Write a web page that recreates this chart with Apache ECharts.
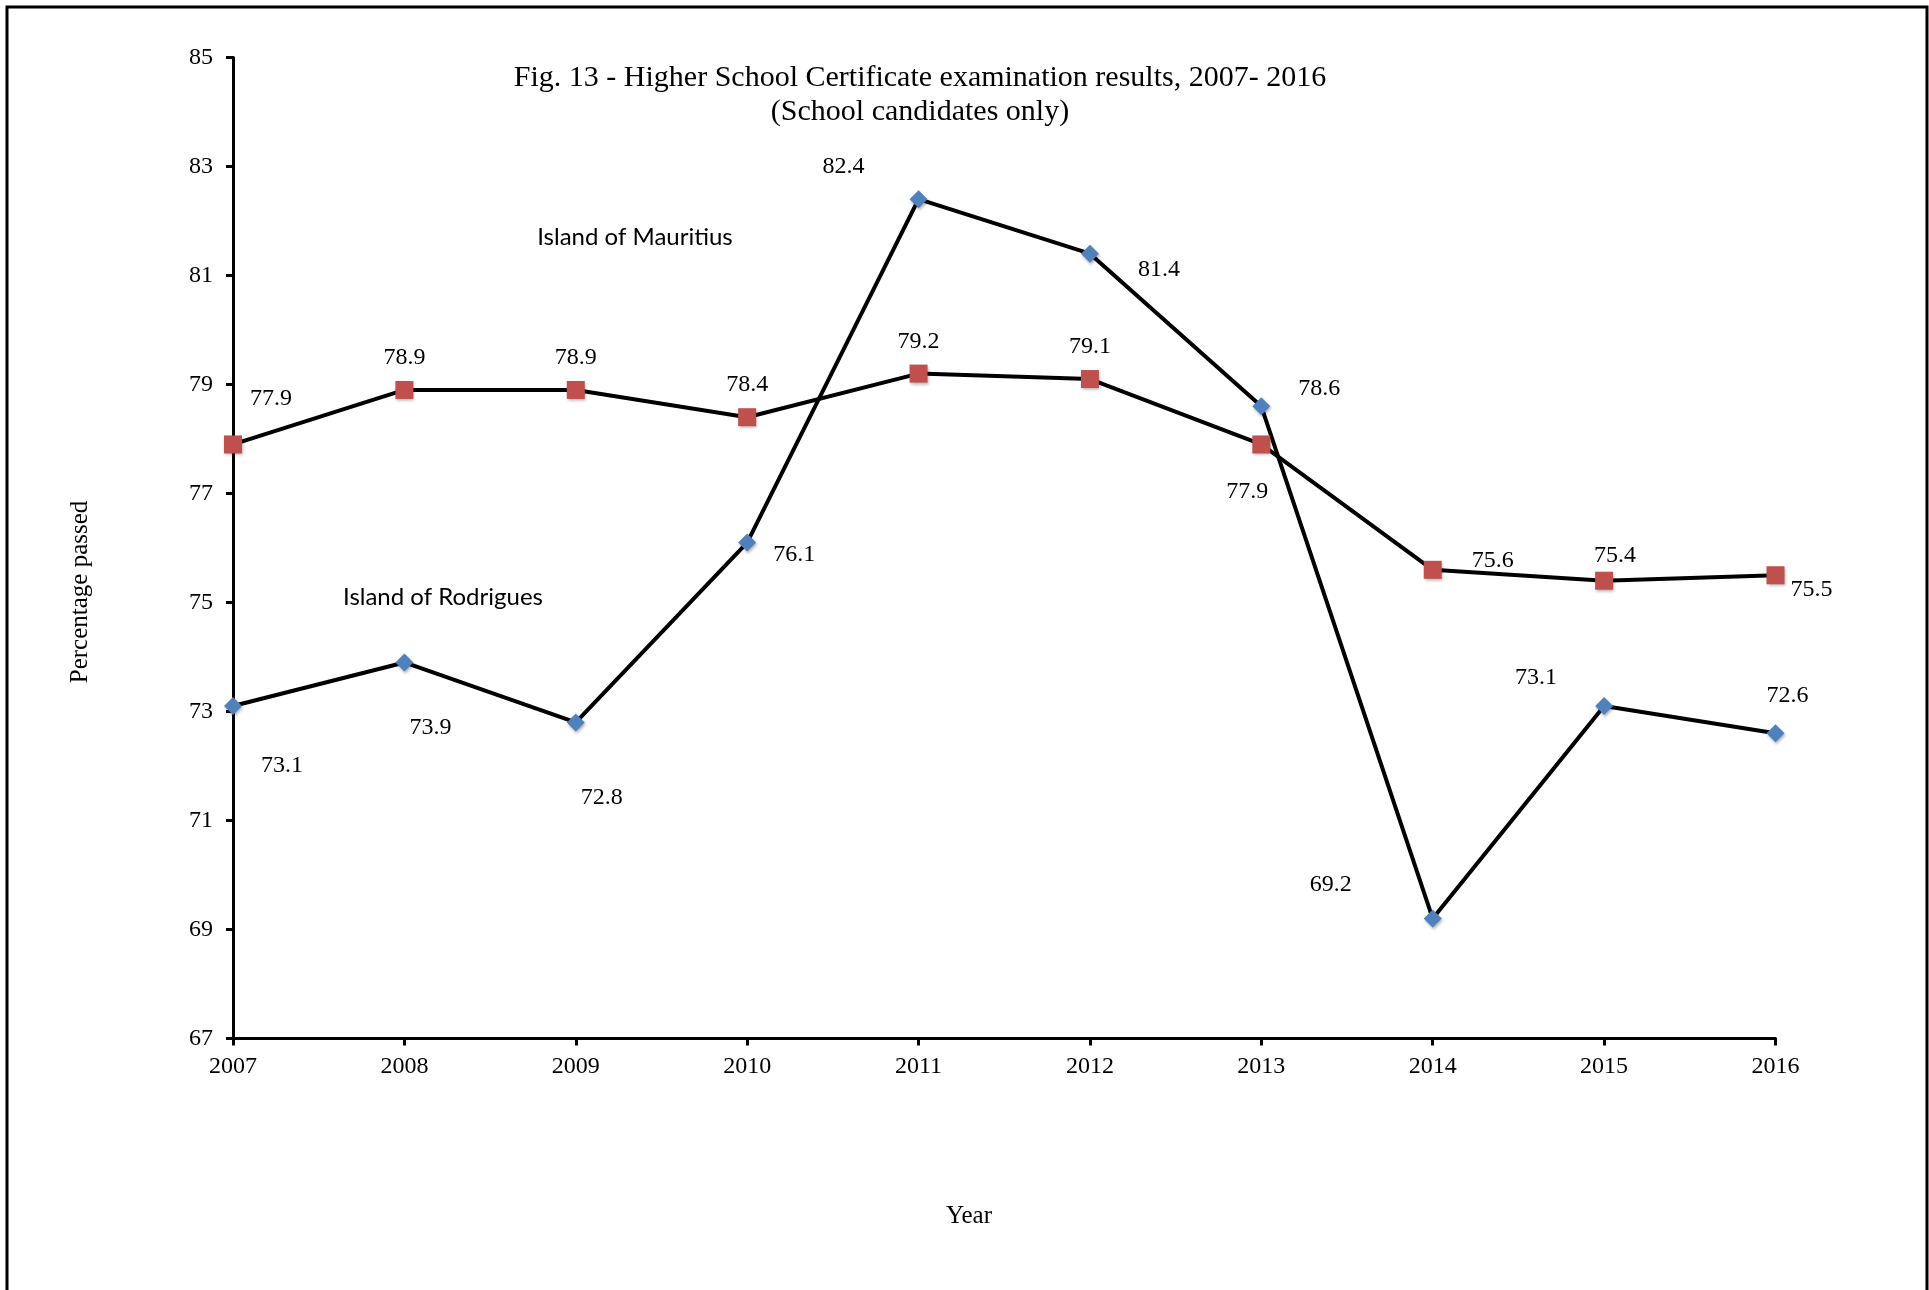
<!DOCTYPE html>
<html>
<head>
<meta charset="utf-8">
<script src="https://cdn.jsdelivr.net/npm/echarts@6/dist/echarts.min.js"></script>
<style>
html,body{margin:0;padding:0;background:#fff;}
#chart{width:1929px;height:1290px;}
</style>
</head>
<body>
<div id="chart"></div>
<script>
const years = ['2007','2008','2009','2010','2011','2012','2013','2014','2015','2016'];
const mauritius = [77.9, 78.9, 78.9, 78.4, 79.2, 79.1, 77.9, 75.6, 75.4, 75.5];
const rodrigues = [73.1, 73.9, 72.8, 76.1, 82.4, 81.4, 78.6, 69.2, 73.1, 72.6];
const yTicks = {min: 67, max: 85, interval: 2};
const titleText = 'Fig. 13 - Higher School Certificate examination results, 2007- 2016\n(School candidates only)';

// label offsets (pixels) relative to each point
const mauritiusLabelOffsets = [[38,-46],[0,-32],[0,-32],[0,-32],[0,-32],[0,-32],[-14,47],[60,-9],[11,-25],[36,14]];
const rodriguesLabelOffsets = [[49,60],[26,65],[26,75],[47,12],[-75,-32],[69,16],[58,-18],[-102,-34],[-68,-28],[12,-38]];

const serif = 'Liberation Serif';
const chart = echarts.init(document.getElementById('chart'));

function build(vals, offs){
  return vals.map((v,i)=>({value:v, label:{offset:offs[i]}}));
}

const labelStyle = {
  show:true, position:'inside', align:'center', verticalAlign:'middle',
  fontFamily:serif, fontSize:24, color:'#000',
  formatter: p => p.value.toFixed(1)
};

chart.setOption({
  animation:false,
  backgroundColor:'#fff',
  title:{
    text:titleText, left:915, top:56, textAlign:'center',
    textStyle:{fontFamily:serif, fontSize:30, fontWeight:'normal', color:'#000', lineHeight:34}
  },
  grid:{left:233, right:153.5, top:57.5, bottom:251.5, containLabel:false},
  xAxis:{
    type:'category', data:years, boundaryGap:false,
    axisLine:{lineStyle:{color:'#000', width:3}},
    axisTick:{show:true, length:7, lineStyle:{color:'#000', width:3}, alignWithLabel:true},
    axisLabel:{fontFamily:serif, fontSize:24, color:'#000', margin:16},
    splitLine:{show:false}
  },
  yAxis:{
    type:'value', min:yTicks.min, max:yTicks.max, interval:yTicks.interval,
    axisLine:{show:true, lineStyle:{color:'#000', width:3}},
    axisTick:{show:true, length:7, lineStyle:{color:'#000', width:3}},
    axisLabel:{fontFamily:serif, fontSize:24, color:'#000', margin:20},
    splitLine:{show:false}
  },
  series:[
    {
      name:'Island of Rodrigues', type:'line', data:build(rodrigues, rodriguesLabelOffsets),
      symbol:'diamond', symbolSize:18, showAllSymbol:true,
      lineStyle:{color:'#000', width:4},
      itemStyle:{color:'#4F81BD', shadowBlur:3, shadowOffsetX:1, shadowOffsetY:2, shadowColor:'rgba(0,0,0,0.3)'},
      label:labelStyle, z:2
    },
    {
      name:'Island of Mauritius', type:'line', data:build(mauritius, mauritiusLabelOffsets),
      symbol:'rect', symbolSize:18, showAllSymbol:true,
      lineStyle:{color:'#000', width:4},
      itemStyle:{color:'#C0504D', shadowBlur:3, shadowOffsetX:1, shadowOffsetY:2, shadowColor:'rgba(0,0,0,0.3)'},
      label:labelStyle, z:3
    }
  ],
  graphic:[
    {type:'rect', shape:{x:7, y:7, width:1920, height:1300}, style:{fill:'none', stroke:'#000', lineWidth:3}, silent:true},
    {type:'text', x:635, y:237, style:{text:'Island of Mauritius', fontFamily:'Lato', fontSize:24, fill:'#000', align:'center', verticalAlign:'middle'}},
    {type:'text', x:443, y:597, style:{text:'Island of Rodrigues', fontFamily:'Lato', fontSize:24, fill:'#000', align:'center', verticalAlign:'middle'}},
    {type:'text', x:80, y:592, rotation:Math.PI/2, style:{text:'Percentage passed', fontFamily:serif, fontSize:25, fill:'#000', align:'center', verticalAlign:'middle'}},
    {type:'text', x:969, y:1216, style:{text:'Year', fontFamily:serif, fontSize:25, fill:'#000', align:'center', verticalAlign:'middle'}}
  ]
});
</script>
</body>
</html>
